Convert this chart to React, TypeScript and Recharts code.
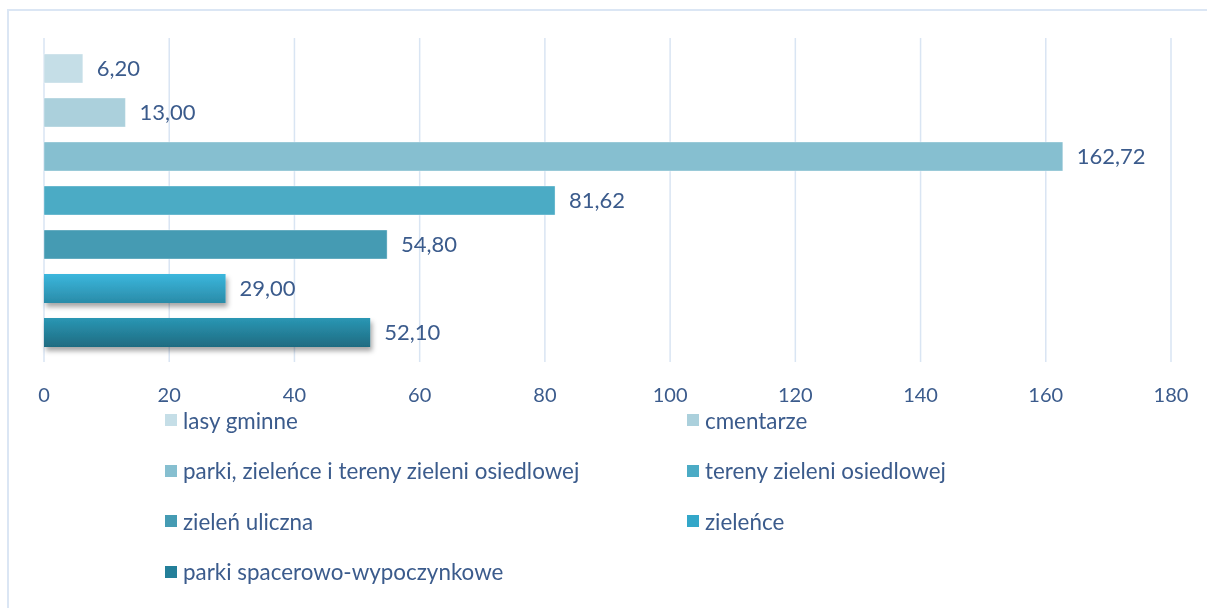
import React from 'react';
import { BarChart, Bar, XAxis, YAxis, CartesianGrid, Legend, LabelList } from 'recharts';

const seriesNames = [
  'lasy gminne',
  'cmentarze',
  'parki, zieleńce i tereny zieleni osiedlowej',
  'tereny zieleni osiedlowej',
  'zieleń uliczna',
  'zieleńce',
  'parki spacerowo-wypoczynkowe',
];
const seriesValues = [6.2, 13.0, 162.72, 81.62, 54.8, 29.0, 52.1];
const seriesColors = ['#c5dee7', '#abd0dc', '#86bfd0', '#4babc5', '#459bb3', 'url(#gZielence)', 'url(#gParki)'];
const legendColors = ['#c5dee7', '#abd0dc', '#86bfd0', '#4babc5', '#459bb3', '#33a7c9', '#247f99'];
const xTicks = [0, 20, 40, 60, 80, 100, 120, 140, 160, 180];
const categories = ['2016'];

const row: Record<string, any> = { name: categories[0] };
seriesNames.forEach((n, i) => { row['s' + i] = seriesValues[i]; });
const data = [row];

const FONT = 'Lato, "Open Sans", sans-serif';
const TEXT = '#3b5b8c';

const fmt = (v: any) => Number(v).toFixed(2).replace('.', ',');

const LegendContent = () => (
  <div style={{ display: 'grid', gridTemplateColumns: '522px 420px', fontFamily: FONT, fontSize: 22.4, color: TEXT }}>
    {seriesNames.map((n, i) => (
      <div key={n} style={{ height: 50.5, display: 'flex', alignItems: 'center' }}>
        <span style={{ width: 12, height: 12, background: legendColors[i], display: 'inline-block', marginRight: 6, flex: 'none' }} />
        <span style={{ whiteSpace: 'nowrap' }}>{n}</span>
      </div>
    ))}
  </div>
);

export default function App() {
  return (
    <div style={{ position: 'fixed', top: 9, left: 7, right: 0, bottom: 0, borderTop: '2px solid #dbe6f4', borderLeft: '2px solid #dbe6f4', overflow: 'hidden' }}>
      <BarChart
        width={1198}
        height={597}
        data={data}
        layout="vertical"
        margin={{ top: 27, right: 36, left: 35, bottom: 200 }}
        barSize={29}
        barGap={15}
      >
        <defs>
          <linearGradient id="gZielence" x1="0" y1="0" x2="0" y2="1">
            <stop offset="0" stopColor="#3bb7dd" />
            <stop offset="1" stopColor="#2a8ba8" />
          </linearGradient>
          <linearGradient id="gParki" x1="0" y1="0" x2="0" y2="1">
            <stop offset="0" stopColor="#2a97b4" />
            <stop offset="1" stopColor="#1f6b81" />
          </linearGradient>
          <filter id="shadow" x="-10%" y="-30%" width="120%" height="180%">
            <feDropShadow dx="2" dy="4" stdDeviation="2.5" floodColor="#000" floodOpacity="0.35" />
          </filter>
        </defs>
        <CartesianGrid horizontal={false} stroke="#d9e5f3" strokeWidth={1.5} />
        <XAxis
          type="number"
          domain={[0, 180]}
          ticks={xTicks}
          axisLine={false}
          tickLine={false}
          height={46}
          tick={{ fill: TEXT, fontSize: 20, fontFamily: FONT }}
          tickMargin={20}
          interval={0}
        />
        <YAxis type="category" dataKey="name" hide />
        {seriesNames.map((n, i) => (
          <Bar
            key={n}
            dataKey={'s' + i}
            name={n}
            fill={seriesColors[i]}
            stroke={i >= 5 ? undefined : 'rgba(255,255,255,0.35)'}
            filter={i >= 5 ? 'url(#shadow)' : undefined}
            isAnimationActive={false}
          >
            <LabelList
              dataKey={'s' + i}
              position="right"
              offset={14}
              formatter={fmt}
              style={{ fill: TEXT, fontSize: 22, fontFamily: FONT }}
            />
          </Bar>
        ))}
        <Legend
          layout="horizontal"
          verticalAlign="middle"
          align="center"
          content={<LegendContent />}
          wrapperStyle={{ top: 384, left: 156, width: 980 }}
        />
      </BarChart>
    </div>
  );
}
